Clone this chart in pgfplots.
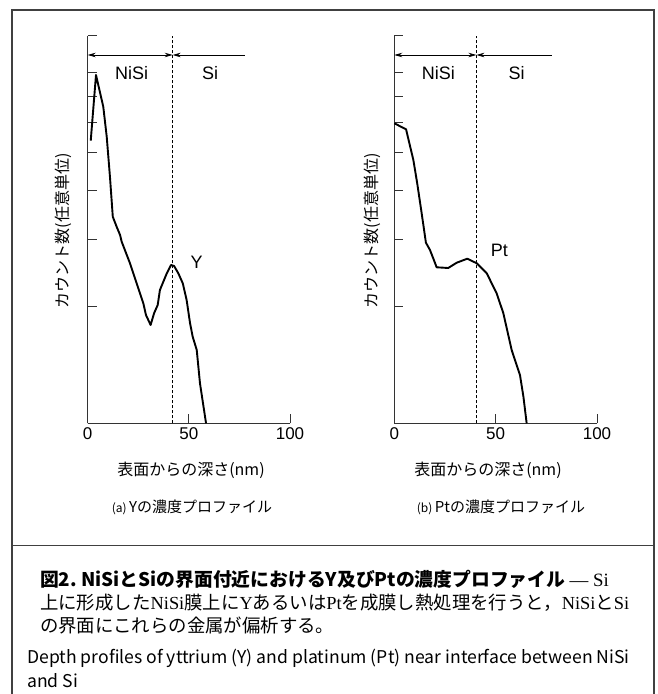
\documentclass[border=0pt]{standalone}
\usepackage{pgfplots}
\pgfplotsset{compat=1.18}
\usepackage{fontspec}
\setmainfont{Noto Sans CJK JP}
\newfontfamily\serif{Liberation Serif}
\newfontfamily\lat{Liberation Sans}
\usetikzlibrary{arrows.meta}
\definecolor{frame}{gray}{0.25}
\definecolor{axc}{gray}{0.2}

\pgfplotstableread{
x y
1.5 282.6
4.1 348.3
7.7 316.6
9.4 286.6
11.0 246.6
12.4 206.6
14.3 196.6
16.0 188.3
16.8 181.6
20.9 160
24.2 140
27.5 120
28.8 108.3
31.1 98.3
32.8 110
34.6 118.3
35.7 133.3
39.1 150
41.2 158.3
42.7 157.3
44.8 150
47.0 140
48.9 123.3
50.6 100
51.9 86.6
53.9 73.3
55.5 40
58.5 0
}\ydata

\pgfplotstableread{
x y
0 300
5.8 294
9.4 263.3
11.3 240
13.5 210
15.6 180.6
17.6 173.3
19.2 165
20.9 156
26.6 155.3
30.8 160.6
36.0 164.6
40.7 160
45.6 150
50.5 130
53.8 110
57.9 73.3
62.0 48.3
63.7 26.6
65.3 0
}\ptdata

\pgfplotsset{
  myax/.style={
    anchor=south west, scale only axis,
    height=387.6pt,
    xmin=0, xmax=100, ymin=0, ymax=387.6,
    axis lines*=left,
    axis line style={line width=1pt, color=axc},
    xtick={0,50,100},
    ytick={117.3,184,233.3,271,300.6,327.3,351,387.6},
    yticklabels={},
    tick align=inside,
    major tick length=9pt,
    tick style={line width=0.8pt, color=axc},
    xticklabel style={font=\lat\fontsize{17}{17}\selectfont, yshift=-1pt},
    /pgf/number format/assume math mode=true,
    clip=false,
  }
}

\begin{document}
\begin{tikzpicture}
\useasboundingbox (0pt,0pt) rectangle (657pt,694pt);
% frame
\draw[frame, line width=1.2pt] (12pt,0pt) -- (12pt,684pt) -- (654pt,684pt) -- (654pt,0pt);
\draw[frame, line width=1.0pt] (12pt,148pt) -- (654pt,148pt);

% left axis
\begin{axis}[myax, at={(87.7pt,270.7pt)}, width=202.3pt]
\addplot[black, line width=1.9pt, line join=round] table[x=x,y=y] {\ydata};
\draw[dashed, line width=0.7pt, dash pattern=on 3pt off 2pt] (axis cs:42,0) -- (axis cs:42,387.6);
\draw[line width=0.8pt, {Stealth[length=8pt,width=4.5pt]}-{Stealth[length=8pt,width=4.5pt]}] (axis cs:0,368.3) -- (axis cs:42,368.3);
\draw[line width=0.8pt, {Stealth[length=8pt,width=4.5pt]}-] (axis cs:42,368.3) -- (axis cs:77.7,368.3);
\node[font=\lat\fontsize{18}{18}\selectfont] at (axis cs:21.7,350.3) {NiSi};
\node[font=\lat\fontsize{18}{18}\selectfont] at (axis cs:60.5,350.3) {Si};
\node[font=\lat\fontsize{18}{18}\selectfont] at (axis cs:53.9,160.6) {Y};
\end{axis}

% right axis
\begin{axis}[myax, at={(394.3pt,270.7pt)}, width=202.7pt]
\addplot[black, line width=1.9pt, line join=round] table[x=x,y=y] {\ptdata};
\draw[dashed, line width=0.7pt, dash pattern=on 3pt off 2pt] (axis cs:40.5,0) -- (axis cs:40.5,387.6);
\draw[line width=0.8pt, {Stealth[length=8pt,width=4.5pt]}-{Stealth[length=8pt,width=4.5pt]}] (axis cs:0,368.3) -- (axis cs:40.5,368.3);
\draw[line width=0.8pt, {Stealth[length=8pt,width=4.5pt]}-] (axis cs:40.5,368.3) -- (axis cs:77.6,368.3);
\node[font=\lat\fontsize{18}{18}\selectfont] at (axis cs:21.7,350.3) {NiSi};
\node[font=\lat\fontsize{18}{18}\selectfont] at (axis cs:60.4,350.3) {Si};
\node[font=\lat\fontsize{18}{18}\selectfont] at (axis cs:51.8,172.6) {Pt};
\end{axis}

% y labels
\node[rotate=90, font=\fontsize{16}{16}\selectfont] at (63pt,463pt) {カウント数(任意単位)};
\node[rotate=90, font=\fontsize{16}{16}\selectfont] at (372pt,463pt) {カウント数(任意単位)};
% x labels
\node[font=\fontsize{16}{16}\selectfont] at (191pt,224pt) {表面からの深さ(nm)};
\node[font=\fontsize{16}{16}\selectfont] at (488pt,224pt) {表面からの深さ(nm)};
% subcaptions
\node[font=\fontsize{15}{15}\selectfont] at (192pt,187pt) {{\fontsize{12}{12}\selectfont(a)}\,Yの濃度プロファイル};
\node[font=\fontsize{15}{15}\selectfont] at (501pt,187pt) {{\fontsize{12}{12}\selectfont(b)}\,Ptの濃度プロファイル};

% caption
\node[anchor=west, inner sep=0pt, font=\fontsize{18.8}{18.8}\selectfont] at (40pt,115pt) {\bfseries 図2.\ NiSiとSiの界面付近におけるY及びPtの濃度プロファイル\mdseries\ {\serif — Si}};
\node[anchor=west, inner sep=0pt, font=\fontsize{18.4}{18.4}\selectfont] at (40pt,91pt) {上に形成した{\serif NiSi}膜上に{\serif Y}あるいは{\serif Pt}を成膜し熱処理を行うと，{\serif NiSi}と{\serif Si}};
\node[anchor=west, inner sep=0pt, font=\fontsize{18.4}{18.4}\selectfont] at (40pt,68pt) {の界面にこれらの金属が偏析する。};
\node[anchor=west, inner sep=0pt, font=\fontsize{17.6}{17.6}\selectfont] at (27pt,36pt) {Depth profiles of yttrium (Y) and platinum (Pt) near interface between NiSi};
\node[anchor=west, inner sep=0pt, font=\fontsize{17.6}{17.6}\selectfont] at (27pt,13pt) {and Si};
\end{tikzpicture}
\end{document}
